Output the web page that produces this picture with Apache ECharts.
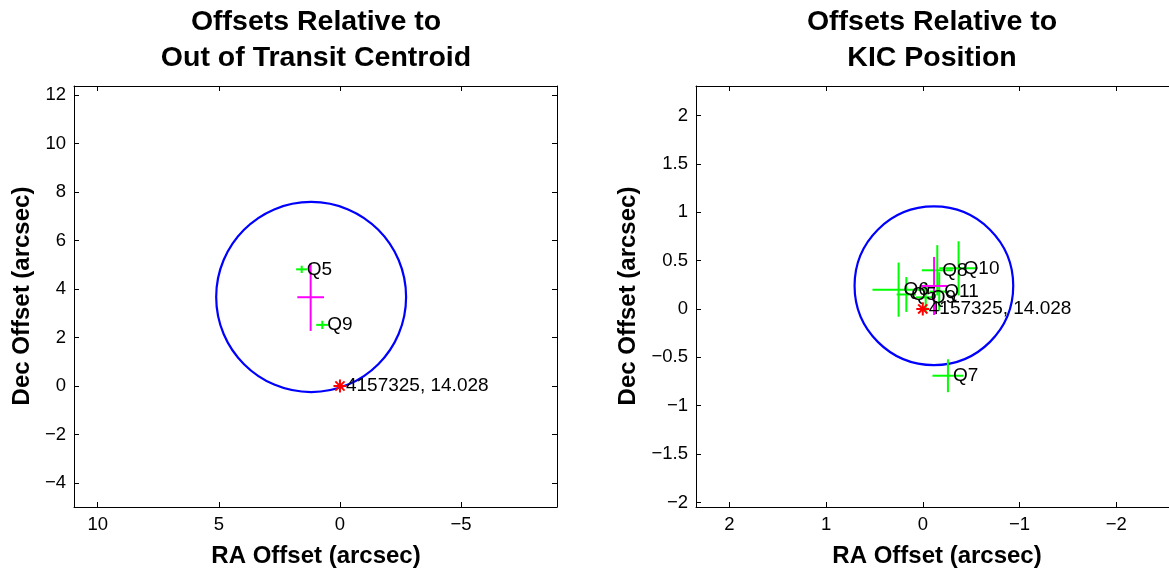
<!DOCTYPE html>
<html>
<head>
<meta charset="utf-8">
<script src="https://cdn.jsdelivr.net/npm/echarts@6/dist/echarts.min.js"></script>
<style>
html,body{margin:0;padding:0;background:#fff;}
#main{width:1169px;height:571px;}
</style>
</head>
<body>
<div id="main"></div>
<script>
// ---------- data ----------
// Left panel: offsets relative to out-of-transit centroid
const leftQuarterLabels = ['Q5', 'Q9'];
const leftQuarterRA  = [1.58, 0.73];
const leftQuarterDec = [4.81, 2.52];
const leftQuarterRAErr  = [0.23, 0.25];
const leftQuarterDecErr = [0.15, 0.17];
const leftCentroid = [1.21, 3.66];
const leftCentroidErr = [0.55, 1.39];
const leftCircleCenter = [1.19, 3.67];
const leftCircleRadius = 3.92;
const leftStar = [0, 0];
const starLabel = '4157325, 14.028';
const leftXTicks = [-5, 0, 5, 10];
const leftYTicks = [-4, -2, 0, 2, 4, 6, 8, 10, 12];
const leftXRange = [-8.96, 10.98];
const leftYRange = [-4.99, 12.37];

// Right panel: offsets relative to KIC position
const rightQuarterLabels = ['Q6', 'Q5', 'Q9', 'Q11', 'Q8', 'Q10', 'Q7'];
const rightQuarterRA  = [0.25, 0.17, -0.03, -0.17, -0.15, -0.37, -0.26];
const rightQuarterDec = [0.20, 0.15, 0.12, 0.18, 0.40, 0.42, -0.69];
const rightQuarterRAErr  = [0.27, 0.10, 0.10, 0.10, 0.16, 0.20, 0.16];
const rightQuarterDecErr = [0.28, 0.18, 0.15, 0.20, 0.26, 0.28, 0.17];
const rightCentroid = [-0.117, 0.238];
const rightCentroidErr = [0.14, 0.30];
const rightCircleCenter = [-0.115, 0.24];
const rightCircleRadius = 0.82;
const rightStar = [0, 0];
const rightXTicks = [-2, -1, 0, 1, 2];
const rightYTicks = [-2, -1.5, -1, -0.5, 0, 0.5, 1, 1.5, 2];
const rightXRange = [-2.545, 2.344];   // visible part (frame is cut at the page edge)
const rightYRange = [-2.047, 2.305];

// ---------- styles ----------
const FONT = '"Liberation Sans", Arial, Helvetica, sans-serif';
const TICK_FS = 18.5;
const ANNOT_FS = 19;
const GREEN = '#00ff00', MAGENTA = '#ff00ff', BLUE = '#0000ff', RED = '#ff0000';
const fmt = v => String(v).replace('-', '\u2212');

function makeAxes(gridIndex, xr, yr, xt, yt, showRight) {
  const line = { show: true, lineStyle: { color: '#000', width: 1 } };
  const tick = (vals) => ({ show: true, inside: true, length: 5, customValues: vals, lineStyle: { color: '#000', width: 1 } });
  const xs = [
    { type: 'value', gridIndex, min: xr[0], max: xr[1], inverse: true, position: 'bottom',
      axisLine: { ...line, onZero: false }, axisTick: tick(xt), splitLine: { show: false },
      axisLabel: { customValues: xt, formatter: fmt, color: '#000', fontSize: TICK_FS, fontFamily: FONT, margin: 8 } },
    { type: 'value', gridIndex, min: xr[0], max: xr[1], inverse: true, position: 'top',
      axisLine: { ...line, onZero: false }, axisTick: tick(xt), splitLine: { show: false },
      axisLabel: { show: false } }
  ];
  const ys = [
    { type: 'value', gridIndex, min: yr[0], max: yr[1], position: 'left',
      axisLine: { ...line, onZero: false }, axisTick: tick(yt), splitLine: { show: false },
      axisLabel: { customValues: yt, formatter: fmt, color: '#000', fontSize: TICK_FS, fontFamily: FONT, margin: 8 } },
    { type: 'value', gridIndex, min: yr[0], max: yr[1], position: 'right', show: showRight,
      axisLine: { ...line, onZero: false }, axisTick: tick(yt), splitLine: { show: false },
      axisLabel: { show: false } }
  ];
  return { xs, ys };
}

const L = makeAxes(0, leftXRange, leftYRange, leftXTicks, leftYTicks, true);
const R = makeAxes(1, rightXRange, rightYRange, rightXTicks, rightYTicks, false);

function crossSeries(xi, yi, ras, decs, raErr, decErr, labels, color) {
  const data = ras.map((v, i) => [v, decs[i], raErr[i], decErr[i]]);
  return {
    type: 'custom', xAxisIndex: xi, yAxisIndex: yi, clip: false, z: 3,
    data,
    renderItem: function (params, api) {
      const x = api.value(0), y = api.value(1), ex = api.value(2), ey = api.value(3);
      const c = api.coord([x, y]);
      const l = api.coord([x - ex, y]), r = api.coord([x + ex, y]);
      const t = api.coord([x, y + ey]), b = api.coord([x, y - ey]);
      const st = { stroke: color, lineWidth: 2 };
      const children = [
        { type: 'line', shape: { x1: l[0], y1: l[1], x2: r[0], y2: r[1] }, style: st },
        { type: 'line', shape: { x1: t[0], y1: t[1], x2: b[0], y2: b[1] }, style: st }
      ];
      if (labels) {
        children.push({ type: 'text', z2: 5, style: { text: labels[params.dataIndex], x: c[0] + 5, y: c[1],
          textAlign: 'left', textVerticalAlign: 'middle', fill: '#000', font: ANNOT_FS + 'px ' + FONT } });
      }
      return { type: 'group', children };
    }
  };
}

function circleSeries(xi, yi, center, radius) {
  return {
    type: 'custom', xAxisIndex: xi, yAxisIndex: yi, clip: false, z: 2,
    data: [[center[0], center[1], radius]],
    renderItem: function (params, api) {
      const c = api.coord([api.value(0), api.value(1)]);
      const rx = Math.abs(api.size([api.value(2), 0])[0]);
      const ry = Math.abs(api.size([0, api.value(2)])[1]);
      return { type: 'ellipse', shape: { cx: c[0], cy: c[1], rx, ry },
        style: { fill: null, stroke: BLUE, lineWidth: 2.2 } };
    }
  };
}

function starSeries(xi, yi, pos, label) {
  return {
    type: 'custom', xAxisIndex: xi, yAxisIndex: yi, clip: false, z: 4,
    data: [[pos[0], pos[1]]],
    renderItem: function (params, api) {
      const c = api.coord([api.value(0), api.value(1)]);
      const s = 6.5, d = 4.6;
      const st = { stroke: RED, lineWidth: 2 };
      return { type: 'group', children: [
        { type: 'line', shape: { x1: c[0] - s, y1: c[1], x2: c[0] + s, y2: c[1] }, style: st },
        { type: 'line', shape: { x1: c[0], y1: c[1] - s, x2: c[0], y2: c[1] + s }, style: st },
        { type: 'line', shape: { x1: c[0] - d, y1: c[1] - d, x2: c[0] + d, y2: c[1] + d }, style: st },
        { type: 'line', shape: { x1: c[0] - d, y1: c[1] + d, x2: c[0] + d, y2: c[1] - d }, style: st },
        { type: 'text', style: { text: label, x: c[0] + 6, y: c[1], textAlign: 'left', textVerticalAlign: 'middle',
          fill: '#000', font: ANNOT_FS + 'px ' + FONT } }
      ] };
    }
  };
}

const titleFont = 'bold 28.5px ' + FONT;
const nameFont = 'bold 24px ' + FONT;
function txt(text, x, y, font, rot) {
  return { type: 'text', x, y, rotation: rot || 0,
    style: { text, font, fill: '#000', textAlign: 'center', textVerticalAlign: 'middle' } };
}

const chart = echarts.init(document.getElementById('main'), null, { renderer: 'canvas' });
chart.setOption({
  animation: false,
  backgroundColor: '#fff',
  grid: [
    { left: 74, top: 86, width: 483, height: 421 },
    { left: 696, top: 86, right: 0, height: 421 }
  ],
  xAxis: [...L.xs, ...R.xs],
  yAxis: [...L.ys, ...R.ys],
  series: [
    circleSeries(0, 0, leftCircleCenter, leftCircleRadius),
    crossSeries(0, 0, [leftCentroid[0]], [leftCentroid[1]], [leftCentroidErr[0]], [leftCentroidErr[1]], null, MAGENTA),
    crossSeries(0, 0, leftQuarterRA, leftQuarterDec, leftQuarterRAErr, leftQuarterDecErr, leftQuarterLabels, GREEN),
    starSeries(0, 0, leftStar, starLabel),
    circleSeries(2, 2, rightCircleCenter, rightCircleRadius),
    crossSeries(2, 2, rightQuarterRA, rightQuarterDec, rightQuarterRAErr, rightQuarterDecErr, null, GREEN),
    crossSeries(2, 2, [rightCentroid[0]], [rightCentroid[1]], [rightCentroidErr[0]], [rightCentroidErr[1]], null, MAGENTA),
    crossSeries(2, 2, rightQuarterRA, rightQuarterDec, rightQuarterRAErr, rightQuarterDecErr, rightQuarterLabels, 'rgba(0,0,0,0)'),
    starSeries(2, 2, rightStar, starLabel)
  ],
  graphic: [
    txt('Offsets Relative to', 316, 22, titleFont),
    txt('Out of Transit Centroid', 316, 58, titleFont),
    txt('Offsets Relative to', 932, 22, titleFont),
    txt('KIC Position', 932, 58, titleFont),
    txt('RA Offset (arcsec)', 316, 556, nameFont),
    txt('RA Offset (arcsec)', 937, 556, nameFont),
    txt('Dec Offset (arcsec)', 22, 296, nameFont, Math.PI / 2),
    txt('Dec Offset (arcsec)', 628, 296, nameFont, Math.PI / 2)
  ]
});
</script>
</body>
</html>
